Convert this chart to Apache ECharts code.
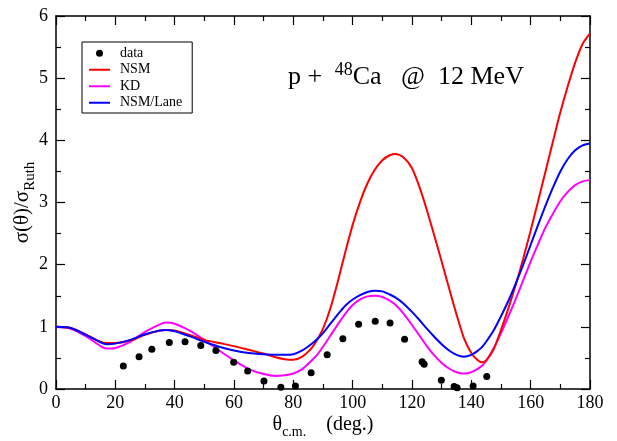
<!DOCTYPE html>
<html><head><meta charset="utf-8">
<script src="https://cdn.jsdelivr.net/npm/echarts@6/dist/echarts.min.js"></script>
<style>html,body{margin:0;padding:0;background:#fff}#c{width:617px;height:441px}</style>
</head><body><div id="c"></div>
<script>
// Angles (deg) for the calculated curves
const theta = [0,5,10,15,17,20,25,30,35,37,40,45,50,55,60,65,70,74,77,80,83,86,88,90,92.5,95,97.5,100,102.5,105,107.5,110,112.5,114.5,117,120,122.5,125,127.5,130,132.5,135,137.5,140,142,143.5,145,147.5,150,152.5,155,157.5,160,162.5,165,167.5,170,172.5,175,177.5,180];
const nsm   = [1.0,0.98,0.88,0.76,0.74,0.74,0.78,0.87,0.94,0.95,0.94,0.87,0.79,0.74,0.69,0.63,0.57,0.51,0.48,0.47,0.52,0.65,0.79,0.97,1.30,1.73,2.20,2.64,3.01,3.31,3.53,3.68,3.76,3.78,3.73,3.55,3.25,2.88,2.47,2.05,1.62,1.20,0.82,0.58,0.47,0.43,0.46,0.64,0.95,1.30,1.68,2.10,2.55,3.02,3.50,3.98,4.45,4.87,5.25,5.55,5.72];
const kd    = [1.0,0.97,0.85,0.69,0.65,0.66,0.76,0.92,1.04,1.07,1.05,0.94,0.79,0.62,0.46,0.32,0.24,0.21,0.22,0.25,0.32,0.45,0.55,0.68,0.86,1.04,1.21,1.35,1.44,1.49,1.50,1.48,1.42,1.35,1.22,1.03,0.86,0.69,0.54,0.42,0.33,0.27,0.25,0.27,0.32,0.37,0.45,0.65,0.90,1.17,1.45,1.75,2.05,2.33,2.60,2.82,3.02,3.17,3.28,3.34,3.36];
const lane  = [1.0,0.98,0.87,0.75,0.72,0.73,0.79,0.88,0.94,0.95,0.93,0.85,0.76,0.68,0.62,0.58,0.56,0.55,0.55,0.56,0.62,0.72,0.80,0.90,1.05,1.20,1.34,1.44,1.51,1.56,1.58,1.57,1.52,1.47,1.38,1.24,1.11,0.97,0.84,0.72,0.62,0.55,0.52,0.55,0.61,0.67,0.76,0.94,1.17,1.42,1.70,2.00,2.32,2.64,2.95,3.24,3.50,3.70,3.84,3.92,3.95];
// Measured data
const dataTheta = [22.7,28.0,32.3,38.2,43.5,48.8,53.9,59.9,64.6,70.1,75.8,80.7,86.0,91.4,96.7,102.0,107.6,112.6,117.5,123.4,124.1,129.9,134.2,135.2,140.6,145.2];
const dataY     = [0.37,0.52,0.64,0.75,0.76,0.70,0.62,0.43,0.29,0.13,0.03,0.05,0.26,0.55,0.81,1.04,1.09,1.06,0.80,0.44,0.40,0.14,0.04,0.02,0.05,0.20];
const xTicks = [0,20,40,60,80,100,120,140,160,180];
const yTicks = [0,1,2,3,4,5,6];

const pair = (xs, ys) => xs.map((x, i) => [x, ys[i]]);
const F = 'Liberation Serif, Times New Roman, serif';
const axisLineStyle = {color:'#000', width:1.5};
const baseX = {
  type:'value', min:xTicks[0], max:xTicks[xTicks.length-1], interval:20,
  axisLine:{show:true, onZero:false, lineStyle:axisLineStyle},
  axisTick:{show:true, inside:true, length:9, lineStyle:{color:'#000', width:1.2}},
  minorTick:{show:true, splitNumber:2, length:5, lineStyle:{color:'#000', width:1.2}},
  splitLine:{show:false}
};
const baseY = {
  type:'value', min:yTicks[0], max:yTicks[yTicks.length-1], interval:1,
  axisLine:{show:true, onZero:false, lineStyle:axisLineStyle},
  axisTick:{show:true, inside:true, length:9, lineStyle:{color:'#000', width:1.2}},
  minorTick:{show:true, splitNumber:2, length:5, lineStyle:{color:'#000', width:1.2}},
  splitLine:{show:false}
};
const lineIcon = 'path://M0,0H21V2H0Z';
const chart = echarts.init(document.getElementById('c'), null, {renderer:'canvas'});
chart.setOption({
  animation:false,
  backgroundColor:'#fff',
  grid:{left:56, right:27, top:16, bottom:52, containLabel:false, outerBoundsMode:'none'},
  title:{
    text:'p + {sup|48}Ca   @  12 MeV', left:283, top:56,
    textStyle:{fontFamily:F, fontSize:26, fontWeight:'normal', color:'#000', lineHeight:32,
      rich:{sup:{fontFamily:F, fontSize:18, color:'#000', verticalAlign:'top', lineHeight:18, padding:[0,0,0,6]}}}
  },
  legend:{
    orient:'vertical', left:82, top:42,
    padding:[4,10,3,7], itemGap:2, itemWidth:21, itemHeight:7,
    borderColor:'#000', borderWidth:1, backgroundColor:'#fff',
    textStyle:{fontFamily:F, fontSize:14, color:'#000', lineHeight:14.5, padding:[0,0,0,5]},
    data:[{name:'data', icon:'circle'},{name:'NSM', icon:lineIcon},{name:'KD', icon:lineIcon},{name:'NSM/Lane', icon:lineIcon}]
  },
  xAxis:[
    Object.assign({}, baseX, {position:'bottom',
      axisLabel:{show:true, fontFamily:F, fontSize:18, color:'#000', margin:5},
      name:'θ{sub|c.m.}    (deg.)', nameLocation:'middle', nameGap:22, nameMoveOverlap:false,
      nameTextStyle:{fontFamily:F, fontSize:20, color:'#000',
        rich:{sub:{fontFamily:F, fontSize:14, color:'#000', verticalAlign:'bottom', padding:[14,0,0,0]}}}
    }),
    Object.assign({}, baseX, {position:'top', axisLabel:{show:false}})
  ],
  yAxis:[
    Object.assign({}, baseY, {position:'left',
      axisLabel:{show:true, fontFamily:F, fontSize:18, color:'#000', margin:8},
      name:'σ(θ)/σ{sub|Ruth}', nameLocation:'middle', nameGap:18, nameRotate:90, nameMoveOverlap:false,
      nameTextStyle:{fontFamily:F, fontSize:21, color:'#000',
        rich:{sub:{fontFamily:F, fontSize:15, color:'#000', verticalAlign:'bottom', padding:[16,0,0,0]}}}
    }),
    Object.assign({}, baseY, {position:'right', axisLabel:{show:false}})
  ],
  series:[
    {name:'NSM', type:'line', data:pair(theta, nsm), smooth:0.25, symbol:'none', clip:true,
     lineStyle:{color:'#ff0000', width:2}, itemStyle:{color:'#ff0000'}, z:3},
    {name:'KD', type:'line', data:pair(theta, kd), smooth:0.25, symbol:'none', clip:true,
     lineStyle:{color:'#ff00ff', width:2}, itemStyle:{color:'#ff00ff'}, z:2},
    {name:'NSM/Lane', type:'line', data:pair(theta, lane), smooth:0.25, symbol:'none', clip:true,
     lineStyle:{color:'#0000ff', width:2}, itemStyle:{color:'#0000ff'}, z:4},
    {name:'data', type:'scatter', data:pair(dataTheta, dataY), symbol:'circle', symbolSize:7,
     itemStyle:{color:'#000', opacity:1}, z:5}
  ]
});
</script></body></html>
